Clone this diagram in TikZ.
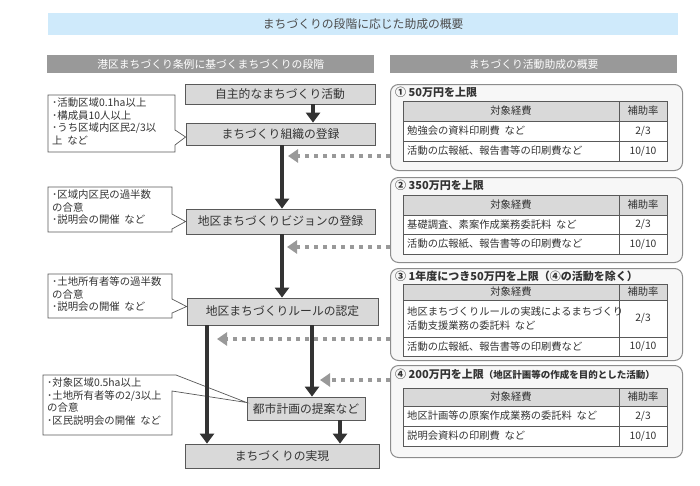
\documentclass[tikz,border=0pt]{standalone}
\usepackage{fontspec}
\setmainfont{Noto Sans CJK JP}
\usetikzlibrary{arrows.meta,calc}
\definecolor{band}{HTML}{CFEAFB}
\definecolor{hdr}{HTML}{999999}
\definecolor{boxfill}{HTML}{D9D9D9}
\definecolor{boxline}{HTML}{595959}
\definecolor{arrowc}{HTML}{333333}
\definecolor{dashc}{HTML}{999999}
\definecolor{txt}{HTML}{333333}
\definecolor{panelline}{HTML}{8C8C8C}
\definecolor{panelfill}{HTML}{F7F7F7}
\definecolor{tablelinec}{HTML}{595959}
\newcommand\gtable[9]{%
  \fill[boxfill] (403,#2) rectangle (667,#3);
  \fill[white] (403,#3) rectangle (667,#5);
  \draw[tline] (403,#2) rectangle (667,#5);
  \draw[tline] (403,#3) -- (667,#3) (403,#4) -- (667,#4) (619,#2) -- (619,#5);
  \node[cell] (#1h1) at ({511},{(#2+#3)/2}) {対象経費};
  \node[cell] (#1h2) at ({643},{(#2+#3)/2}) {補助率};
  \node[cell, anchor=west, align=left] (#1a1) at ({407},{(#3+#4)/2}) {#6};
  \node[cell] (#1b1) at ({643},{(#3+#4)/2}) {#7};
  \node[cell, anchor=west] (#1a2) at ({407},{(#4+#5)/2}) {#8};
  \node[cell] (#1b2) at ({643},{(#4+#5)/2}) {#9};
}
\begin{document}
\begin{tikzpicture}[x=1pt,y=-1pt,
  stage/.style={draw=boxline, fill=boxfill, line width=0.8pt, inner sep=0pt, text=txt, font=\fontsize{11.8}{14}\selectfont},
  note/.style={anchor=north west, align=left, inner sep=0pt, text=txt, font=\fontsize{10.4}{12.4}\selectfont},
  calloutline/.style={draw=boxline, fill=white, line width=0.7pt, line join=miter},
  flow/.style={draw=arrowc, line width=4pt, -{Triangle[width=14pt,length=10pt]}},
  feed/.style={draw=dashc, line width=4.5pt, dash pattern=on 4.5pt off 4.5pt, -{Triangle[width=13pt,length=10pt]}},
  panel/.style={draw=panelline, fill=panelfill, line width=1pt, rounded corners=8pt, inner sep=0pt},
  ptitle/.style={anchor=west, inner sep=0pt, text=txt, font=\fontsize{11}{13}\selectfont\bfseries},
  cell/.style={inner sep=0pt, text=txt, font=\fontsize{10.3}{14.5}\selectfont},
  tline/.style={draw=tablelinec, line width=0.8pt}
]
\useasboundingbox (0,0) rectangle (700,485);
\fill[white] (0,0) rectangle (700,485);

% title and headers
\node[fill=band, anchor=north west, minimum width=630, minimum height=22, inner sep=0pt,
      text=black!70, font=\fontsize{11.8}{13}\selectfont] (title) at (48,13) {まちづくりの段階に応じた助成の概要};
\node[fill=hdr, anchor=north west, minimum width=327, minimum height=18, inner sep=0pt,
      text=white, font=\fontsize{10.8}{13}\selectfont] (hl) at (47,55) {港区まちづくり条例に基づくまちづくりの段階};
\node[fill=hdr, anchor=north west, minimum width=287, minimum height=18, inner sep=0pt,
      text=white, font=\fontsize{10.8}{13}\selectfont] (hr) at (390,55) {まちづくり活動助成の概要};

% stages
\node[stage, minimum width=190, minimum height=20] (b1) at (280,94) {自主的なまちづくり活動};
\node[stage, minimum width=189, minimum height=22] (b2) at (280.5,134) {まちづくり組織の登録};
\node[stage, minimum width=189, minimum height=25] (b3) at (280.5,221.5) {地区まちづくりビジョンの登録};
\node[stage, minimum width=191, minimum height=27] (b4) at (282.5,311.5) {地区まちづくりルールの認定};
\node[stage, minimum width=118, minimum height=23] (b5) at (306,408.5) {都市計画の提案など};
\node[stage, minimum width=194, minimum height=24] (b6) at (282,456) {まちづくりの実現};

% callouts
\draw[calloutline] (48,95) -- (175,95) -- (175,130) -- ($(b2.west)+(0,3)$) -- (175,145) -- (175,152) -- (48,152) -- cycle;
\node[note] (n1) at (52,98) {･活動区域0.1ha以上\\･構成員10人以上\\･うち区域内区民2/3以\\上\ \ など};
\draw[calloutline] (48,187) -- (172,187) -- (172,214) -- (b3.west) -- (172,229) -- (172,232) -- (48,232) -- cycle;
\node[note] (n2) at (52,190) {･区域内区民の過半数\\の合意\\･説明会の開催\ \ など};
\draw[calloutline] (48,274) -- (172,274) -- (172,299) -- ($(b4.west)+(0,-5)$) -- (172,313) -- (172,318) -- (48,318) -- cycle;
\node[note] (n3) at (52,277) {･土地所有者等の過半数\\の合意\\･説明会の開催\ \ など};
\draw[calloutline] (43,375) -- (176,375) -- ($(b5.west)+(0,-6)$) -- (172,391) -- (172,435) -- (43,435) -- cycle;
\node[note] (n4) at (47,378) {･対象区域0.5ha以上\\･土地所有者等の2/3以上\\の合意\\･区民説明会の開催\ \ など};

% panels
\node[panel, anchor=north west, minimum width=292, minimum height=86] (p1) at (390,84) {};
\node[panel, anchor=north west, minimum width=292, minimum height=85] (p2) at (390,177) {};
\node[panel, anchor=north west, minimum width=292, minimum height=92] (p3) at (390,268) {};
\node[panel, anchor=north west, minimum width=292, minimum height=92] (p4) at (390,365) {};

\node[ptitle] (t1) at (395,92) {①\ 50万円を上限};
\gtable{a}{101}{121}{141}{161}{勉強会の資料印刷費\ \ など}{2/3}{活動の広報紙、報告書等の印刷費など}{10/10}
\node[ptitle] (t2) at (395,185) {②\ 350万円を上限};
\gtable{b}{195}{215}{234}{254}{基礎調査、素案作成業務委託料\ \ など}{2/3}{活動の広報紙、報告書等の印刷費など}{10/10}
\node[ptitle] (t3) at (395,276) {③\ 1年度につき50万円を上限（④の活動を除く）};
\gtable{c}{284}{300}{337}{356}{地区まちづくりルールの実践によるまちづくり\\活動支援業務の委託料\ \ など}{2/3}{活動の広報紙、報告書等の印刷費など}{10/10}
\node[ptitle] (t4) at (395,374) {④\ 200万円を上限{\fontsize{9.5}{12}\selectfont（地区計画等の作成を目的とした活動）}};
\gtable{d}{388}{406}{426}{446}{地区計画等の原案作成業務の委託料\ \ など}{2/3}{説明会資料の印刷費\ \ など}{10/10}

% feedback dashed arrows
\coordinate (f1) at (288,156);
\coordinate (f2) at (287,247);
\coordinate (f3) at (217,339);
\coordinate (f4) at (320,380);
\draw[feed] (p1.west |- f1) -- (f1);
\draw[feed] (p2.west |- f2) -- (f2);
\draw[feed] (p3.west |- f3) -- (f3);
\draw[feed] (p4.west |- f4) -- (f4);

% flow arrows
\draw[flow] ($(b1.south)+(33,0)$) -- ($(b2.north)+(32.5,0)$);
\draw[flow] ($(b2.south)+(1.5,0)$) -- ($(b3.north)+(1.5,0)$);
\draw[flow] ($(b3.south)+(1.5,0)$) -- ($(b4.north)+(-0.5,0)$);
\draw[flow] ($(b4.south)+(-75.5,0)$) -- ($(b6.north)+(-75,0)$);
\draw[flow] ($(b4.south)+(29.5,0)$) -- ($(b5.north)+(6,0)$);
\draw[flow] ($(b5.south)+(34,0)$) -- ($(b6.north)+(58,0)$);
\end{tikzpicture}
\end{document}
